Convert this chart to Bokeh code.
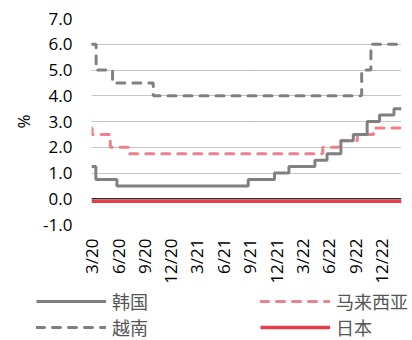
import math
import pandas as pd
from bokeh.plotting import figure
from bokeh.layouts import column
from bokeh.models import Range1d, FixedTicker, PrintfTickFormatter, Span, Legend, LegendItem
from bokeh.embed import file_html
from bokeh.resources import INLINE

# ---- data (policy rates, %) ----
korea_dates = ["2020-03-01", "2020-03-16", "2020-05-28", "2021-08-26", "2021-11-25",
               "2022-01-14", "2022-04-14", "2022-05-26", "2022-07-13", "2022-08-25",
               "2022-10-12", "2022-11-24", "2023-01-13", "2023-02-08"]
korea_rates = [1.25, 0.75, 0.5, 0.75, 1.0, 1.25, 1.5, 1.75, 2.25, 2.5, 3.0, 3.25, 3.5, 3.5]

malaysia_dates = ["2020-03-01", "2020-03-03", "2020-05-05", "2020-07-07", "2022-05-11",
                  "2022-07-06", "2022-09-08", "2022-11-03", "2023-02-08"]
malaysia_rates = [2.75, 2.5, 2.0, 1.75, 2.0, 2.25, 2.5, 2.75, 2.75]

vietnam_dates = ["2020-03-01", "2020-03-17", "2020-05-13", "2020-10-01", "2022-09-23",
                 "2022-10-25", "2023-02-08"]
vietnam_rates = [6.0, 5.0, 4.5, 4.0, 5.0, 6.0, 6.0]

japan_dates = ["2020-03-01", "2023-02-08"]
japan_rates = [-0.1, -0.1]

series_names = ["韩国", "马来西亚", "越南", "日本"]

tick_labels = ["3/20", "6/20", "9/20", "12/20", "3/21", "6/21", "9/21", "12/21",
               "3/22", "6/22", "9/22", "12/22"]
y_ticks = [-1, 0, 1, 2, 3, 4, 5, 6, 7]

start = pd.Timestamp("2020-03-01")
end = pd.Timestamp("2023-02-08")


def to_days(ds):
    return [(pd.Timestamp(d) - start).days for d in ds]


def label_to_days(lbl):
    m, y = lbl.split("/")
    return (pd.Timestamp(2000 + int(y), int(m), 1) - start).days


x_ticks = [label_to_days(l) for l in tick_labels]

FONT = "Open Sans"
CJK = "Noto Sans CJK SC"

GREY = "#808080"
PINK = "#F0808A"
RED = "#E83E4C"
styles = {
    "韩国": dict(line_color=GREY, line_width=3),
    "马来西亚": dict(line_color=PINK, line_width=3, line_dash="8 8", line_cap="round"),
    "越南": dict(line_color=GREY, line_width=3, line_dash="8 8", line_cap="round"),
    "日本": dict(line_color=RED, line_width=3.5),
}

p = figure(width=412, height=286, output_backend="svg", toolbar_location=None,
           x_range=Range1d(0, (end - start).days), y_range=Range1d(-1, 7),
           min_border_left=91, min_border_right=11, min_border_top=18, min_border_bottom=60)
p.frame_align = False
p.outline_line_color = None
p.background_fill_color = "white"
p.border_fill_color = "white"

# grid
p.xgrid.grid_line_color = None
p.ygrid.ticker = FixedTicker(ticks=y_ticks)
p.ygrid.grid_line_color = "#8C8C8C"
p.ygrid.grid_line_dash = "1 1"
p.ygrid.grid_line_width = 1

# y axis
p.yaxis.ticker = FixedTicker(ticks=y_ticks)
p.yaxis.formatter = PrintfTickFormatter(format="%.1f")
p.yaxis.axis_line_color = None
p.yaxis.major_tick_line_color = None
p.yaxis.minor_tick_line_color = None
p.yaxis.major_tick_out = 0
p.yaxis.major_label_standoff = 19
p.yaxis.major_label_text_font = FONT
p.yaxis.major_label_text_font_size = "17px"
p.yaxis.major_label_text_color = "black"
p.yaxis.axis_label = "%"
p.yaxis.axis_label_text_font = FONT
p.yaxis.axis_label_text_font_size = "17px"
p.yaxis.axis_label_text_font_style = "normal"
p.yaxis.axis_label_text_color = "black"
p.yaxis.axis_label_standoff = 5

# x axis
p.xaxis.ticker = FixedTicker(ticks=x_ticks)
p.xaxis.major_label_overrides = {t: l for t, l in zip(x_ticks, tick_labels)}
p.xaxis.axis_line_color = None
p.xaxis.major_tick_line_color = None
p.xaxis.minor_tick_line_color = None
p.xaxis.major_tick_out = 0
p.xaxis.major_label_standoff = 14
p.xaxis.major_label_orientation = math.pi / 2
p.xaxis.major_label_text_font = FONT
p.xaxis.major_label_text_font_size = "17px"
p.xaxis.major_label_text_color = "black"

p.step(to_days(japan_dates), japan_rates, mode="after", **styles["日本"])
p.step(to_days(malaysia_dates), malaysia_rates, mode="after", **styles["马来西亚"])
p.step(to_days(vietnam_dates), vietnam_rates, mode="after", **styles["越南"])
p.step(to_days(korea_dates), korea_rates, mode="after", **styles["韩国"])

p.add_layout(Span(location=0, dimension="width", line_color="black", line_width=1))

# ---- legend strip below the chart ----
lg = figure(width=412, height=54, output_backend="svg", toolbar_location=None,
            x_range=Range1d(0, 1), y_range=Range1d(0, 1),
            x_axis_location=None, y_axis_location=None,
            min_border_left=0, min_border_right=0, min_border_top=0, min_border_bottom=0)
lg.frame_align = False
lg.outline_line_color = None
lg.grid.visible = False
lg.border_fill_color = "white"
lg.background_fill_color = "white"

# legend-only renderers (no visible marks; they carry the series styles)
nan = float("nan")
swatch = {name: lg.line([nan], [nan], **styles[name]) for name in series_names}


def make_legend(names, loc):
    return Legend(items=[LegendItem(label=n, renderers=[swatch[n]]) for n in names],
                  location=loc, orientation="horizontal",
                  glyph_width=70, glyph_height=18, label_height=18, label_width=40,
                  label_standoff=6, spacing=108, padding=0, margin=0,
                  label_text_font=CJK, label_text_font_size="18px", label_text_color="#555555",
                  border_line_color=None, background_fill_alpha=0)


lg.add_layout(make_legend(["韩国", "马来西亚"], (36, 26)))
lg.add_layout(make_legend(["越南", "日本"], (36, 0)))

layout = column(p, lg, spacing=0)
open("out.html", "w").write(file_html(layout, INLINE))
